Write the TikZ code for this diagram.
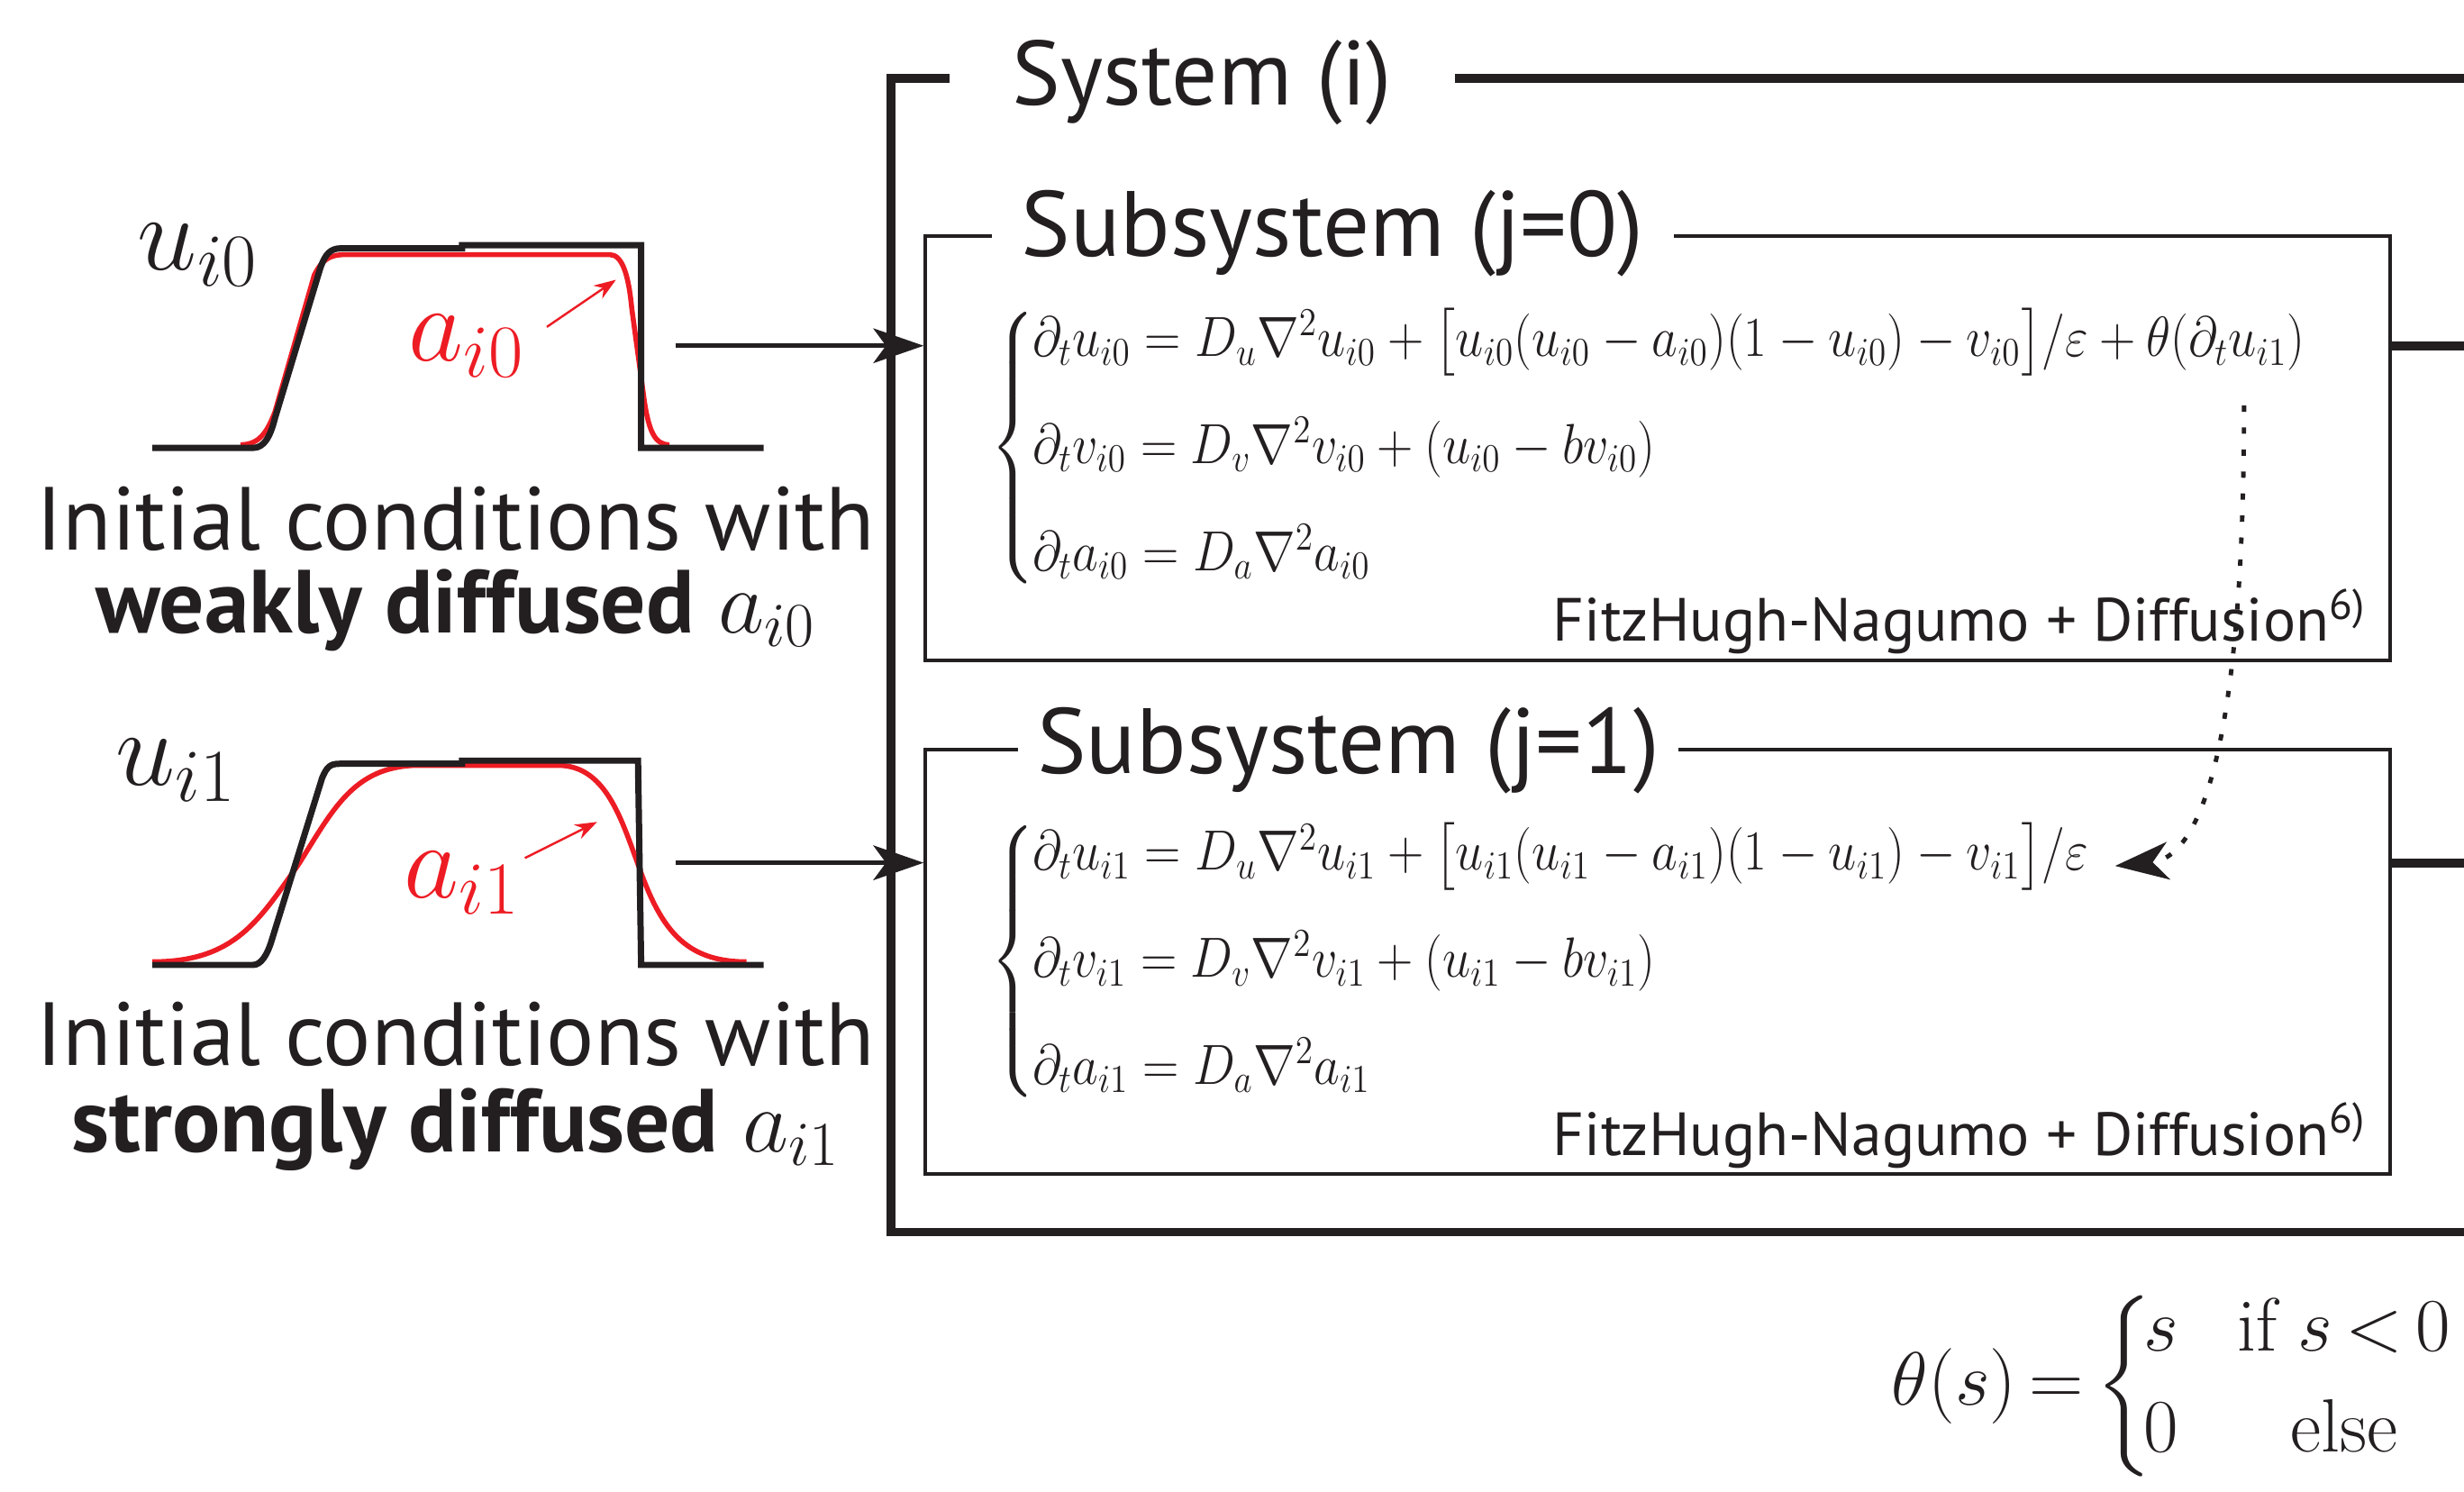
\RequirePackage{fix-cm}
\documentclass[tikz,border=0pt]{standalone}
\usepackage{amsmath}
\usepackage{amssymb}
\usepackage{fontspec}
\setsansfont{PT Sans}
\usepackage{tikz}
\usetikzlibrary{arrows.meta}
\definecolor{ink}{RGB}{35,31,32}
\definecolor{ared}{RGB}{237,28,36}
\newcommand{\squeeze}[1]{\scalebox{0.89}[1]{#1}}
\tikzstyle{every node}=[inner sep=0pt, text=ink]
\tikzstyle{sysline}=[draw=ink, line width=2.8pt]
\tikzstyle{subbox}=[draw=ink, line width=1.2pt, minimum width=466pt, minimum height=135pt]
\tikzstyle{title}=[font=\sffamily\fontsize{29.5}{29.5}\selectfont, fill=white, anchor=base]
\tikzstyle{caption}=[font=\sffamily\fontsize{28.5}{28.5}\selectfont, anchor=base]
\tikzstyle{eqn}=[font=\fontsize{18}{18}\selectfont, anchor=west]
\tikzstyle{fhn}=[font=\sffamily\fontsize{19.4}{19.4}\selectfont, anchor=base east]
\tikzstyle{var}=[font=\fontsize{34}{34}\selectfont]
\tikzstyle{uprof}=[draw=ink, line width=2pt]
\tikzstyle{aprof}=[draw=ared, line width=1.6pt]
\tikzstyle{feed}=[draw=ink, line width=1.5pt, -{Stealth[length=16pt,width=11pt,inset=4pt]}]
\tikzstyle{pointer}=[draw=ared, line width=0.7pt, -{Stealth[length=7pt,width=5pt]}]
\tikzstyle{coupling}=[draw=ink, line width=1.4pt, dash pattern=on 2pt off 5pt, -{Stealth[length=17pt,width=12pt,inset=5pt]}]

\begin{document}
\begin{tikzpicture}[x=0.5pt,y=-0.5pt]
  \useasboundingbox (0,0) rectangle (1568,949);

  % system (i)
  \draw[sysline] (1568,50) -- (567,50) -- (567,784) -- (1568,784);
  \node[title, inner xsep=20pt, font=\sffamily\fontsize{29}{29}\selectfont] (sys) at (765,67) {System (i)};

  % subsystems
  \node[subbox] (sub_0) at (1055,285) {};
  \node[subbox] (sub_1) at (1055,612) {};
  \node[title, inner xsep=9.5pt] (ttl_0) at (848,163) {Subsystem (j=0)};
  \node[title, inner xsep=6pt]   (ttl_1) at (858,492) {Subsystem (j=1)};

  \node[eqn] (eq_0) at (630,285) {\squeeze{$\left\{\mkern-1mu\begin{array}{@{}l@{}}
    \partial_t u_{i0} = D_u\nabla^2 u_{i0} + \bigl[u_{i0}(u_{i0}-a_{i0})(1-u_{i0})-v_{i0}\bigr]/\varepsilon+\theta(\partial_t u_{i1})\\[14pt]
    \partial_t v_{i0} = D_v\nabla^2 v_{i0} + (u_{i0}-b v_{i0})\\[14pt]
    \partial_t a_{i0} = D_a\nabla^2 a_{i0}
    \end{array}\right.$}};
  \node[eqn] (eq_1) at (630,612) {\squeeze{$\left\{\mkern-1mu\begin{array}{@{}l@{}}
    \partial_t u_{i1} = D_u\nabla^2 u_{i1} + \bigl[u_{i1}(u_{i1}-a_{i1})(1-u_{i1})-v_{i1}\bigr]/\varepsilon\\[14pt]
    \partial_t v_{i1} = D_v\nabla^2 v_{i1} + (u_{i1}-b v_{i1})\\[14pt]
    \partial_t a_{i1} = D_a\nabla^2 a_{i1}
    \end{array}\right.$}};
  \node[fhn] (fhn_0) at (1506,408) {FitzHugh-Nagumo + Diffusion\textsuperscript{6)}};
  \node[fhn] (fhn_1) at (1506,735) {FitzHugh-Nagumo + Diffusion\textsuperscript{6)}};

  % coupling term
  \coordinate (src) at (1428,258);
  \coordinate (dst) at (1346,551);
  \draw[coupling] (src) .. controls (1428,440) and (1408,545) .. (dst);

  % inputs and outputs
  \coordinate (in_0) at (430,220);
  \coordinate (in_1) at (430,549);
  \coordinate (out_0) at (1568,220);
  \coordinate (out_1) at (1568,549);
  \draw[feed] (in_0) -- (in_0 -| sub_0.west);
  \draw[feed] (in_1) -- (in_1 -| sub_1.west);
  \draw[sysline] (out_0 -| sub_0.east) -- (out_0);
  \draw[sysline] (out_1 -| sub_1.east) -- (out_1);

  % initial profiles, weak
  \draw[aprof] (153,283) .. controls (165,283) and (170,275) .. (175,262) -- (200,175)
    .. controls (205,165) and (210,162) .. (220,162) -- (388,162)
    .. controls (396,162) and (400,175) .. (402,196) -- (410,255)
    .. controls (413,275) and (417,283) .. (426,283);
  \draw[uprof] (97,285) -- (161,285) .. controls (168,285) and (172,278) .. (175,266) -- (204,170)
    .. controls (207,162) and (210,158) .. (217,158) -- (294,158) -- (294,156) -- (408,156)
    -- (408,285) -- (486,285);
  \node[var] (u_0) at (126,162) {$u_{i0}$};
  \node[var, text=ared] (a_0) at (297,220) {$a_{i0}$};
  \draw[pointer] (348,208) -- (392,178);
  \node[caption] (cap_0) at (290,350) {Initial conditions with};
  \node[caption] (sub_cap_0) at (290,403) {\textbf{weakly diffused} $a_{i0}$};

  % initial profiles, strong
  \draw[aprof] (97,612) .. controls (150,612) and (165,585) .. (190,550)
    .. controls (212,515) and (225,488) .. (265,487) -- (355,487)
    .. controls (385,487) and (395,520) .. (406,550)
    .. controls (420,590) and (435,612) .. (475,612);
  \draw[uprof] (97,614) -- (161,614) .. controls (166,614) and (170,608) .. (173,598) -- (205,495)
    .. controls (208,488) and (210,486) .. (216,486) -- (294,486) -- (294,484) -- (406,484)
    -- (408,614) -- (486,614);
  \node[var] (u_1) at (112,490) {$u_{i1}$};
  \node[var, text=ared] (a_1) at (294,562) {$a_{i1}$};
  \draw[pointer] (334,546) -- (380,523);
  \node[caption] (cap_1) at (290,678) {Initial conditions with};
  \node[caption] (sub_cap_1) at (290,733) {\textbf{strongly diffused} $a_{i1}$};

  % clipping function
  \node[font=\fontsize{24}{24}\selectfont, anchor=east] (clip) at (1562,882)
    {$\theta(s)\mkern3mu{=}\mkern0mu\left\{\mkern-2mu\begin{array}{@{}l@{\mkern14mu}c@{}} s & \text{if}\;s\mskip3mu{<}\mskip3mu0\\[8pt] 0 & \text{else}\end{array}\right.$};
\end{tikzpicture}
\end{document}
